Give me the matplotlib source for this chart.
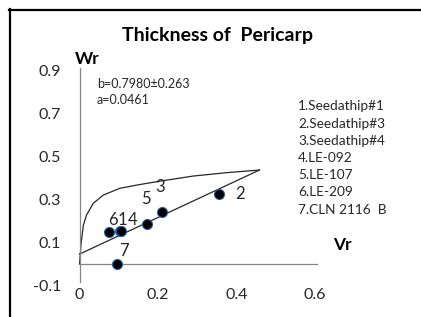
import matplotlib
matplotlib.use("Agg")
import matplotlib.pyplot as plt
from matplotlib.lines import Line2D

plt.rcParams['font.family'] = ['Lato', 'DejaVu Sans']

# ---- data ----
labels = ["1", "2", "3", "4", "5", "6", "7"]
vr = [0.103, 0.356, 0.210, 0.105, 0.171, 0.076, 0.095]
wr = [0.153, 0.324, 0.243, 0.153, 0.186, 0.150, 0.000]

parab_vr = [0.000, 0.001, 0.004, 0.010, 0.018, 0.035, 0.061, 0.103, 0.146, 0.197, 0.290, 0.376, 0.459]
parab_wr = [0.000, 0.019, 0.096, 0.181, 0.228, 0.282, 0.321, 0.352, 0.367, 0.383, 0.409, 0.425, 0.437]

reg_vr = [0.0, 0.459]
reg_wr = [0.046, 0.437]

xticks = [0, 0.2, 0.4, 0.6]
xticklabels = ["0", "0.2", "0.4", "0.6"]
yticks = [-0.1, 0.1, 0.3, 0.5, 0.7, 0.9]
yticklabels = ["-0.1", "0.1", "0.3", "0.5", "0.7", "0.9"]

legend_lines = ["1.Seedathip#1", "2.Seedathip#3", "3.Seedathip#4", "4.LE-092",
                "5.LE-107", "6.LE-209", "7.CLN 2116  B"]
# label offsets in pixels (dx right, dy up)
label_offsets = {"1": (2.5, 11), "2": (21, 0), "3": (-1.5, 25), "4": (12, 11),
                 "5": (-0.7, 25), "6": (3.7, 12), "7": (7.3, 12.7)}

W, H = 421, 317
fig = plt.figure(figsize=(W / 100, H / 100), dpi=100)
fig.patch.set_facecolor('white')

ax = fig.add_axes([79.5 / W, (H - 285.5) / H, 235.2 / W, 215 / H])
ax.set_xlim(0, 0.6)
ax.set_ylim(-0.1, 0.9)
ax.patch.set_alpha(0)

for s in ['top', 'right', 'bottom']:
    ax.spines[s].set_visible(False)
ax.spines['left'].set_color('#868686')
ax.spines['left'].set_linewidth(0.9)
ax.spines['left'].set_bounds(-0.084, 0.912)
ax.axhline(0, xmin=0, xmax=1.01, color='#868686', lw=0.9, clip_on=False)

ax.set_xticks(xticks)
ax.set_xticklabels(xticklabels)
ax.set_yticks(yticks)
ax.set_yticklabels(yticklabels)
ax.tick_params(axis='both', length=0, labelsize=11.5, colors='#262626')
ax.tick_params(axis='y', pad=13.3)
ax.tick_params(axis='x', pad=1.5)

ax.plot(parab_vr, parab_wr, color='#262626', lw=0.9, clip_on=False)
ax.plot(reg_vr, reg_wr, color='#262626', lw=0.9, clip_on=False)
ax.scatter(vr, wr, s=52, color='black', edgecolors='#2e5ea8', linewidths=0.8, zorder=3, clip_on=False)

for lab, x, y in zip(labels, vr, wr):
    dx, dy = label_offsets[lab]
    ax.annotate(lab, (x, y), xytext=(dx * 0.72, dy * 0.72), textcoords='offset points',
                ha='center', va='center', fontsize=12, color='#262626')

# texts
fig.text(218 / W, 1 - 36 / H, "Thickness of  Pericarp", ha='center', va='center',
         fontsize=14, fontweight='bold', color='black')
fig.text(87 / W, 1 - 59 / H, "Wr", ha='center', va='center', fontsize=12.5,
         fontweight='bold', color='black')
fig.text(342.5 / W, 1 - 245 / H, "Vr", ha='center', va='center', fontsize=12.5,
         fontweight='bold', color='black')
fig.text(97 / W, 1 - 84 / H, "b=0.7980\u00b10.263", ha='left', va='center', fontsize=9, color='#262626')
fig.text(97 / W, 1 - 100 / H, "a=0.0461", ha='left', va='center', fontsize=9, color='#262626')
for i, t in enumerate(legend_lines):
    fig.text(298 / W, 1 - (106.5 + i * 17.2) / H, t, ha='left', va='center', fontsize=9.8, color='#262626')

# frame lines (left and top)
fig.add_artist(Line2D([10 / W, 10 / W], [0, 1 - 9 / H], transform=fig.transFigure, color='black', lw=1.6))
fig.add_artist(Line2D([9 / W, 1], [1 - 10 / H, 1 - 10 / H], transform=fig.transFigure, color='black', lw=1.6))

fig.savefig("out.png", dpi=100)
